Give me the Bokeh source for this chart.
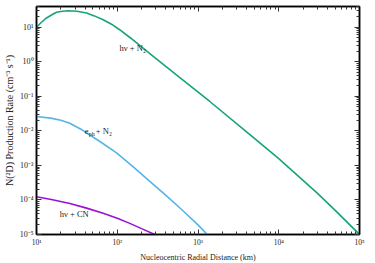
from bokeh.plotting import figure
from bokeh.models import LogAxis, FixedTicker, CustomJSTickFormatter, Label
from bokeh.embed import file_html
from bokeh.resources import INLINE

# ---- data ----
dist_hv_n2 = [10, 11.5, 13.3, 15.5, 17.7, 20, 24.6, 31.6, 41.7, 52, 67, 85, 107, 146,
              279, 540, 1400, 4470, 10000, 30000, 50000, 100000]
rate_hv_n2 = [10, 14, 18.6, 23, 27.2, 28.8, 30, 29, 26, 21.4, 16.6, 12.3, 8.5, 4.9,
              1.45, 0.42, 0.071, 7.6e-3, 1.58e-3, 1.58e-4, 5e-5, 1e-5]

dist_eph_n2 = [10, 15, 20, 25.9, 35.5, 45.7, 63, 98, 158, 251, 398, 631, 1000, 1300]
rate_eph_n2 = [0.026, 0.0234, 0.0204, 0.0166, 0.0112, 7.6e-3, 4.7e-3, 2.3e-3, 9.1e-4,
               3.5e-4, 1.38e-4, 5.2e-5, 1.9e-5, 1e-5]

dist_hv_cn = [10, 15.8, 25.9, 41.7, 67, 100, 143, 200, 292]
rate_hv_cn = [1.24e-4, 1.02e-4, 7.9e-5, 5.8e-5, 4.1e-5, 2.95e-5, 2.1e-5, 1.48e-5, 1e-5]

x_major = [1e1, 1e2, 1e3, 1e4, 1e5]
x_minor = [m * 10.0 ** k for k in range(1, 5) for m in range(2, 10)]
y_major = [10.0 ** k for k in range(-5, 2)]
y_minor = [m * 10.0 ** k for k in range(-5, 2) for m in range(2, 10)]

labels = [("hν + N₂", 107, 2.5), ("hν + CN", 19.4, 3.8e-5)]

FONT = "Liberation Serif"

p = figure(frame_width=323, frame_height=228, x_axis_type="log", y_axis_type="log",
           x_range=(10, 1e5), y_range=(1e-5, 40),
           output_backend="svg", toolbar_location=None,
           min_border_left=36, min_border_right=14, min_border_top=6, min_border_bottom=27)
p.grid.visible = False
p.outline_line_color = "black"
p.outline_line_width = 1.5
p.background_fill_color = "white"
p.border_fill_color = "white"

sup_code = """
const e = Math.round(Math.log10(tick));
const sup = {"-":"\u207b","0":"\u2070","1":"\u00b9","2":"\u00b2","3":"\u00b3","4":"\u2074","5":"\u2075","6":"\u2076","7":"\u2077","8":"\u2078","9":"\u2079"};
return "10" + String(e).split("").map(c => sup[c]).join("");
"""

def style_axis(ax, major, minor, show_labels, tick_size="8px", label_size="8px"):
    ax.ticker = FixedTicker(ticks=major, minor_ticks=minor)
    ax.axis_line_color = "black"
    ax.axis_line_width = 1.5
    ax.major_tick_in = 5
    ax.major_tick_out = 0
    ax.minor_tick_in = 3
    ax.minor_tick_out = 0
    ax.major_tick_line_color = "#333333"
    ax.minor_tick_line_color = "#333333"
    if show_labels:
        ax.formatter = CustomJSTickFormatter(code=sup_code)
        ax.major_label_text_font = FONT
        ax.major_label_text_font_size = tick_size
        ax.major_label_text_color = "#222222"
        ax.major_label_standoff = 3
        ax.axis_label_text_font = FONT
        ax.axis_label_text_font_size = label_size
        ax.axis_label_text_font_style = "normal"
        ax.axis_label_text_color = "#222222"
        ax.axis_label_standoff = 3
    else:
        ax.formatter = CustomJSTickFormatter(code="return ''")
        ax.major_label_text_font_size = "1px"
        ax.major_label_standoff = 0

style_axis(p.xaxis[0], x_major, x_minor, True, "7.5px", "8px")
style_axis(p.yaxis[0], y_major, y_minor, True, "8px", "10px")
p.xaxis[0].axis_label = "Nucleocentric Radial Distance (km)"
p.yaxis[0].axis_label = "N(²D) Production Rate (cm⁻³ s⁻¹)"
p.yaxis[0].axis_label_standoff = 2

right = LogAxis()
style_axis(right, y_major, y_minor, False)
p.add_layout(right, "right")
top = LogAxis()
style_axis(top, x_major, x_minor, False)
p.add_layout(top, "above")

p.line(dist_hv_n2, rate_hv_n2, line_color="#16a37c", line_width=1.6)
p.line(dist_eph_n2, rate_eph_n2, line_color="#56b4e9", line_width=1.6)
p.line(dist_hv_cn, rate_hv_cn, line_color="#9a10d6", line_width=1.6)

for txt, lx, ly in labels:
    p.add_layout(Label(x=lx, y=ly, text=txt, text_font=FONT, text_font_size="8.5px",
                       text_color="#222222", text_baseline="middle"))

# e_ph + N2 label built from pieces
ex, ey = 39.7, 0.01
p.add_layout(Label(x=ex, y=ey, text="e", text_font=FONT, text_font_size="8.5px",
                   text_color="#222222", text_baseline="middle"))
p.add_layout(Label(x=ex, y=ey, x_offset=4, y_offset=-3, text="ph", text_font=FONT,
                   text_font_size="6px", text_color="#222222", text_baseline="middle"))
p.add_layout(Label(x=ex, y=ey, x_offset=11, text="+ N₂", text_font=FONT, text_font_size="8.5px",
                   text_color="#222222", text_baseline="middle"))

open("out.html", "w").write(file_html(p, INLINE))
